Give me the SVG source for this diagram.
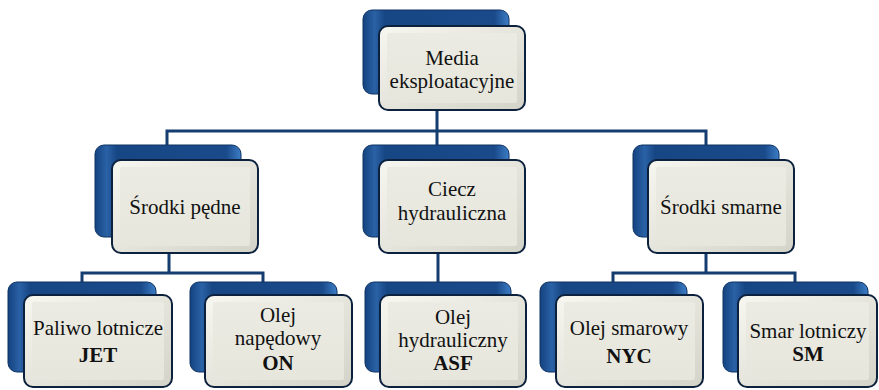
<svg xmlns="http://www.w3.org/2000/svg" width="879" height="390" viewBox="0 0 879 390" font-family="Liberation Serif, serif">
<defs>
<linearGradient id="gBack" x1="0" y1="0" x2="1" y2="0">
<stop offset="0" stop-color="#14427f"/>
<stop offset="0.08" stop-color="#2a62a6"/>
<stop offset="0.15" stop-color="#174684"/>
<stop offset="0.9" stop-color="#1a4a8a"/>
<stop offset="1" stop-color="#3c7dc6"/>
</linearGradient>
<linearGradient id="gFront" x1="0" y1="0" x2="1" y2="1">
<stop offset="0" stop-color="#f7f7f1"/>
<stop offset="1" stop-color="#d3d3c8"/>
</linearGradient>
<linearGradient id="gInner" x1="0" y1="0" x2="0" y2="1">
<stop offset="0" stop-color="#ebebe3"/>
<stop offset="1" stop-color="#e6e6dc"/>
</linearGradient>
</defs>
<style>
.back{fill:url(#gBack);stroke:#0f3363;stroke-width:1}
.front{fill:url(#gFront);stroke:#0c213d;stroke-width:2}
.inner{fill:url(#gInner);stroke:none}
.conn{fill:none;stroke:#163d6f;stroke-width:3}
.t{font-size:21px;fill:#111;text-anchor:middle}
.b{font-weight:bold}
</style>
<g id="connectors">
<path class="conn" d="M437 100V131M167 145V131H706V145M437 131V145"/>
<path class="conn" d="M169 240V273M82 282V273H263V282"/>
<path class="conn" d="M438 240V282"/>
<path class="conn" d="M706 240V273M613 282V273H795V282"/>
</g>
<g id="n-media">
<rect class="back" x="363" y="10" width="146" height="84" rx="9"/>
<rect class="front" x="379" y="26" width="146" height="84" rx="9"/>
<rect class="inner" x="387" y="33" width="130" height="70" rx="2"/>
<text class="t" x="452" y="65">Media</text>
<text class="t" x="452" y="88">eksploatacyjne</text>
</g>
<g id="n-pedne">
<rect class="back" x="95" y="145" width="146" height="92" rx="9"/>
<rect class="front" x="112" y="160" width="146" height="93" rx="9"/>
<rect class="inner" x="120" y="167" width="130" height="79" rx="2"/>
<text class="t" x="185" y="214">Środki pędne</text>
</g>
<g id="n-ciecz">
<rect class="back" x="363" y="145" width="146" height="92" rx="9"/>
<rect class="front" x="379" y="160" width="146" height="93" rx="9"/>
<rect class="inner" x="387" y="167" width="130" height="79" rx="2"/>
<text class="t" x="452" y="196">Ciecz</text>
<text class="t" x="452" y="220">hydrauliczna</text>
</g>
<g id="n-smarne">
<rect class="back" x="633" y="145" width="146" height="92" rx="9"/>
<rect class="front" x="648" y="160" width="146" height="93" rx="9"/>
<rect class="inner" x="656" y="167" width="130" height="79" rx="2"/>
<text class="t" x="721" y="214">Środki smarne</text>
</g>
<g id="n-jet">
<rect class="back" x="8" y="282" width="148" height="90" rx="9"/>
<rect class="front" x="24" y="295" width="148" height="92" rx="9"/>
<rect class="inner" x="32" y="302" width="132" height="78" rx="2"/>
<text class="t" x="98" y="335">Paliwo lotnicze</text>
<text class="t b" x="98" y="362">JET</text>
</g>
<g id="n-on">
<rect class="back" x="190" y="282" width="147" height="90" rx="9"/>
<rect class="front" x="205" y="295" width="147" height="92" rx="9"/>
<rect class="inner" x="213" y="302" width="131" height="78" rx="2"/>
<text class="t" x="278" y="322">Olej</text>
<text class="t" x="278" y="345">napędowy</text>
<text class="t b" x="278" y="370">ON</text>
</g>
<g id="n-asf">
<rect class="back" x="365" y="282" width="146" height="90" rx="9"/>
<rect class="front" x="380" y="295" width="146" height="92" rx="9"/>
<rect class="inner" x="388" y="302" width="130" height="78" rx="2"/>
<text class="t" x="453" y="324">Olej</text>
<text class="t" x="453" y="347">hydrauliczny</text>
<text class="t b" x="453" y="370">ASF</text>
</g>
<g id="n-nyc">
<rect class="back" x="540" y="282" width="147" height="90" rx="9"/>
<rect class="front" x="556" y="295" width="147" height="92" rx="9"/>
<rect class="inner" x="564" y="302" width="131" height="78" rx="2"/>
<text class="t" x="629" y="335">Olej smarowy</text>
<text class="t b" x="629" y="363">NYC</text>
</g>
<g id="n-sm">
<rect class="back" x="723" y="282" width="145" height="90" rx="9"/>
<rect class="front" x="738" y="295" width="139" height="92" rx="9"/>
<rect class="inner" x="746" y="302" width="123" height="78" rx="2"/>
<text class="t" x="808" y="338">Smar lotniczy</text>
<text class="t b" x="808" y="361">SM</text>
</g>
</svg>
